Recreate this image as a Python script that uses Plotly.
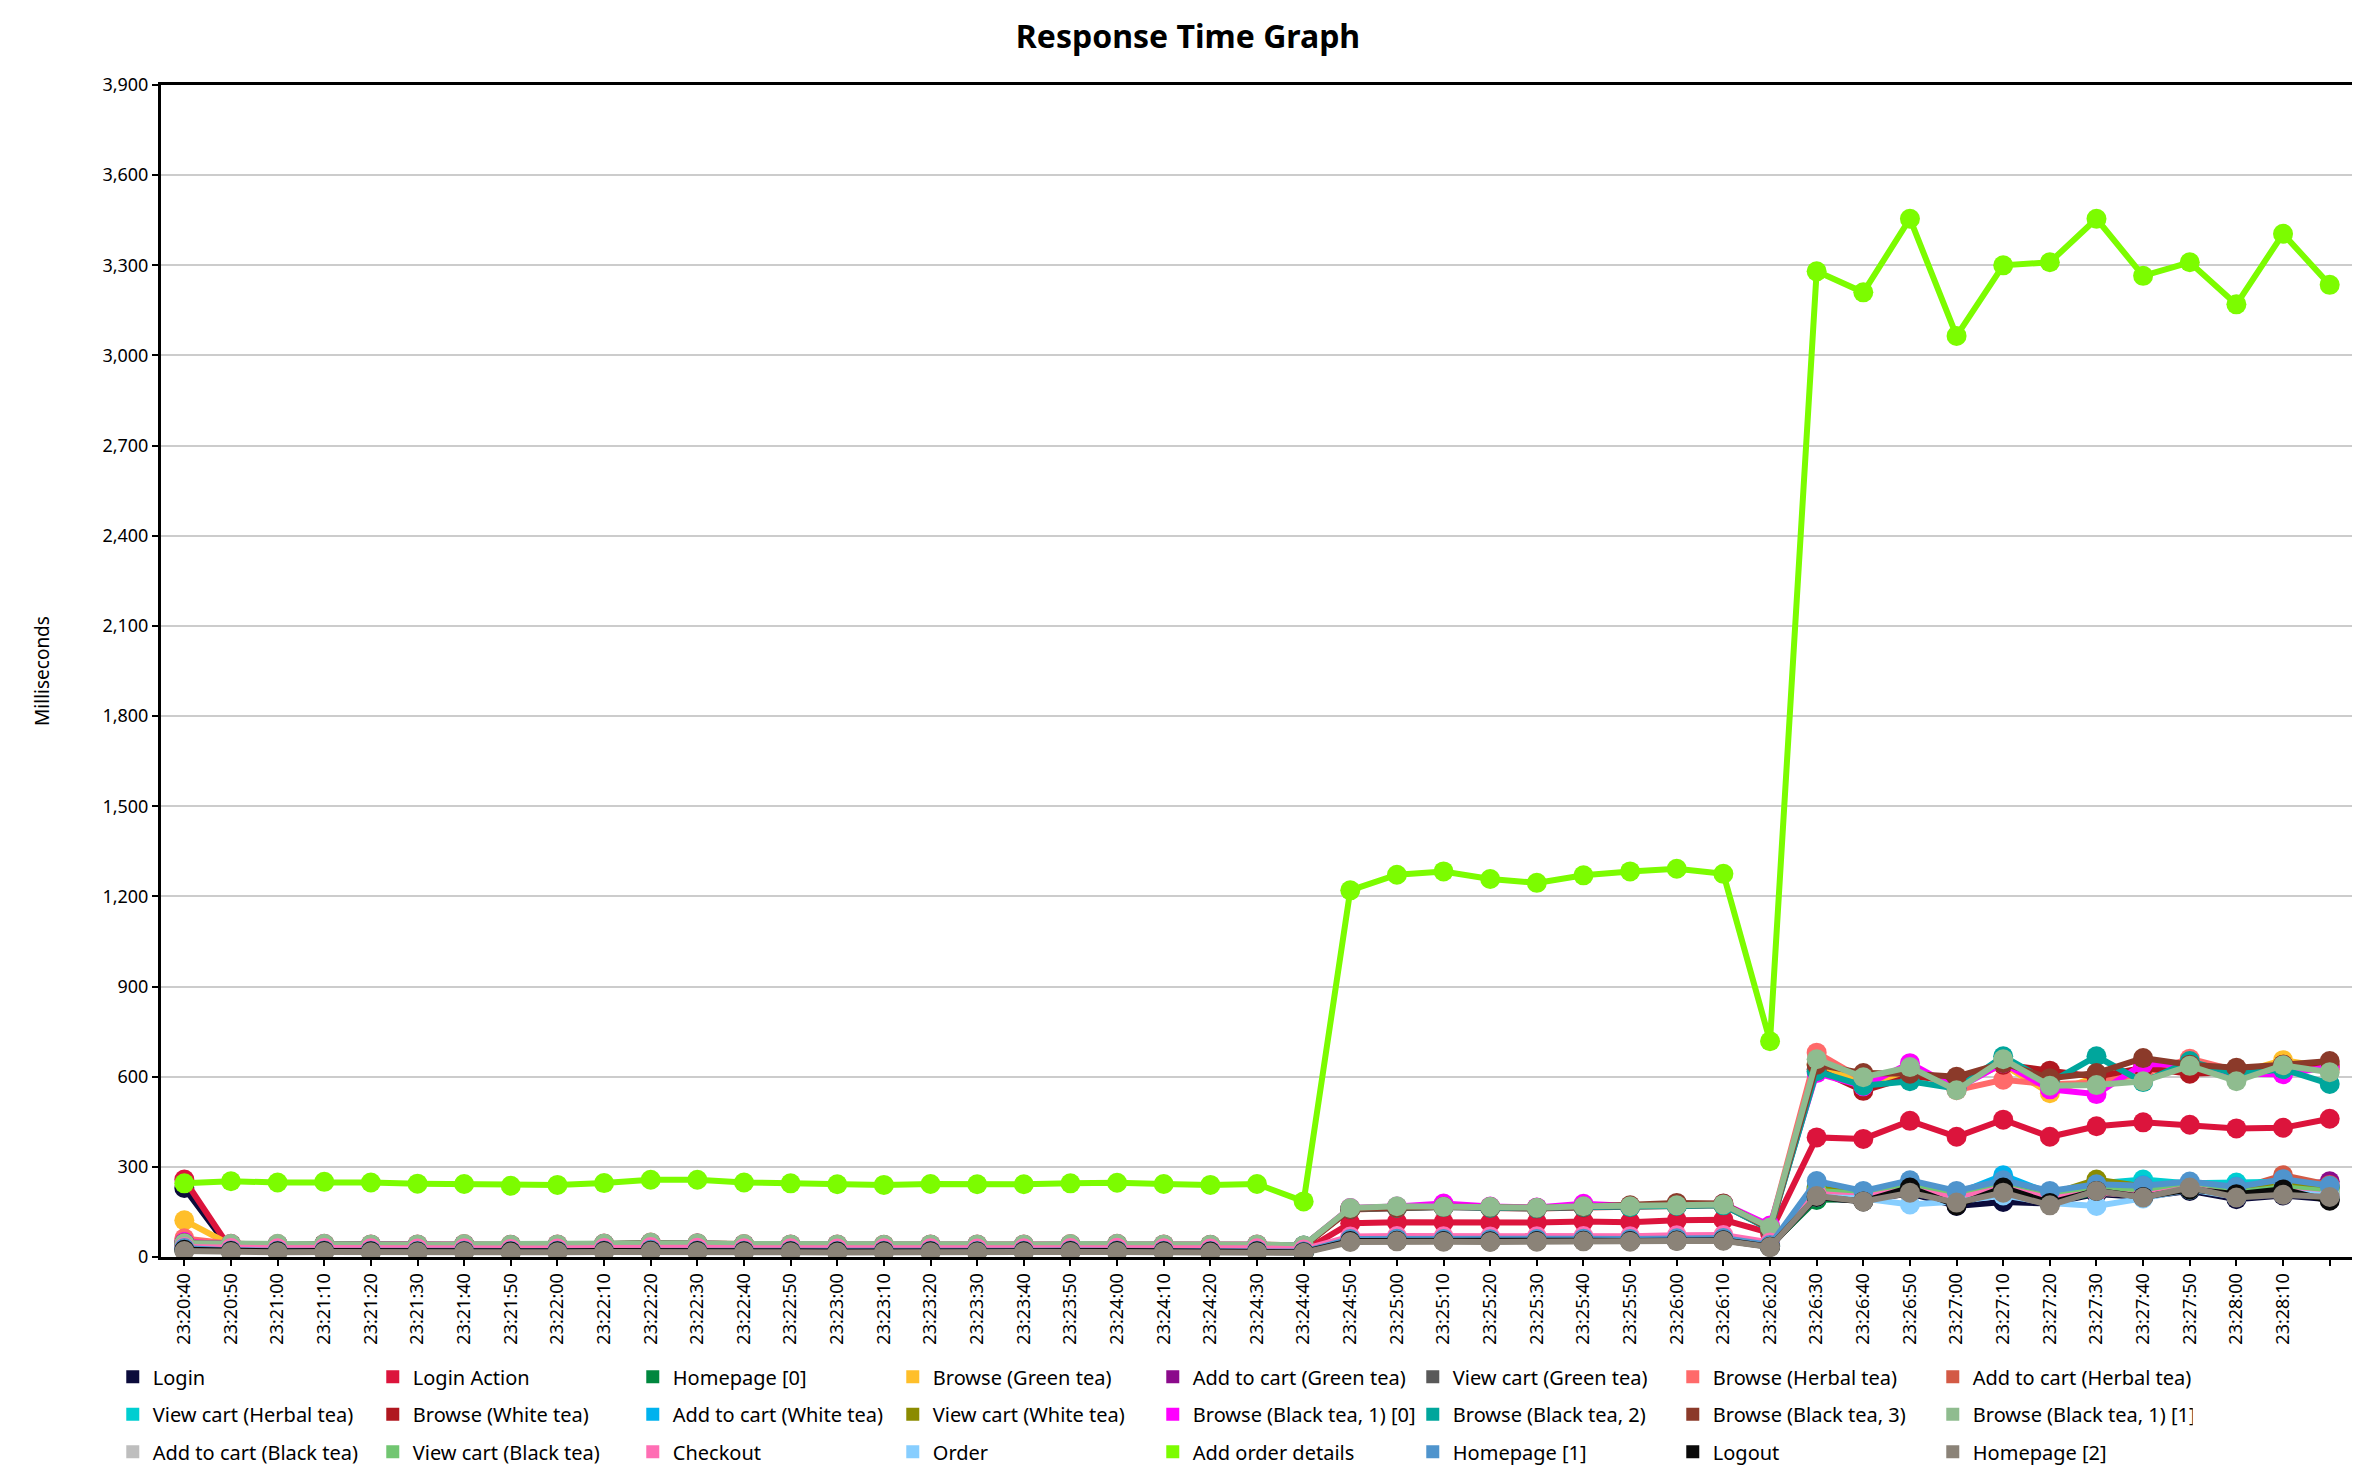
import plotly.graph_objects as go

times = ["23:20:40", "23:20:50", "23:21:00", "23:21:10", "23:21:20", "23:21:30", "23:21:40", "23:21:50",
         "23:22:00", "23:22:10", "23:22:20", "23:22:30", "23:22:40", "23:22:50", "23:23:00", "23:23:10",
         "23:23:20", "23:23:30", "23:23:40", "23:23:50", "23:24:00", "23:24:10", "23:24:20", "23:24:30",
         "23:24:40", "23:24:50", "23:25:00", "23:25:10", "23:25:20", "23:25:30", "23:25:40", "23:25:50",
         "23:26:00", "23:26:10", "23:26:20", "23:26:30", "23:26:40", "23:26:50", "23:27:00", "23:27:10",
         "23:27:20", "23:27:30", "23:27:40", "23:27:50", "23:28:00", "23:28:10", "23:28:20"]
tick_labels = times[:-1] + [""]
y_ticks = [0, 300, 600, 900, 1200, 1500, 1800, 2100, 2400, 2700, 3000, 3300, 3600, 3900]

login = [230, 22, 20, 21, 20, 20, 21, 19, 20, 22, 23, 21, 20, 20, 19, 20, 21, 20, 20, 21, 22, 20, 19, 20, 17,
         55, 56, 55, 54, 55, 56, 55, 57, 58, 36, 195, 188, 212, 170, 183, 178, 210, 200, 220, 192, 205, 192]
login_action = [258, 25, 24, 25, 24, 23, 24, 23, 23, 25, 27, 26, 24, 24, 23, 23, 24, 23, 24, 25, 26, 24, 23, 24, 20,
                112, 116, 115, 114, 115, 118, 116, 122, 124, 80, 398, 393, 453, 400, 457, 400, 435, 448, 440, 428, 430, 460]
homepage_0 = [28, 21, 20, 21, 20, 19, 20, 19, 20, 21, 22, 21, 20, 20, 19, 20, 20, 19, 20, 21, 21, 20, 19, 20, 17,
              57, 58, 57, 56, 57, 58, 57, 59, 60, 38, 190, 195, 215, 185, 220, 180, 215, 205, 225, 205, 215, 200]
browse_green = [122, 40, 41, 42, 40, 40, 41, 39, 40, 43, 46, 44, 41, 40, 40, 39, 40, 40, 40, 41, 42, 40, 39, 40, 36,
                160, 165, 168, 165, 163, 167, 168, 172, 174, 95, 640, 585, 610, 575, 640, 545, 600, 615, 640, 610, 655, 630]
add_green = [30, 22, 21, 22, 21, 20, 21, 20, 21, 22, 24, 22, 21, 21, 20, 21, 21, 20, 21, 22, 22, 21, 20, 21, 18,
             60, 61, 60, 59, 60, 61, 60, 62, 63, 40, 225, 210, 240, 205, 240, 205, 235, 225, 235, 215, 235, 252]
view_green = [25, 20, 19, 20, 19, 19, 20, 18, 19, 20, 21, 20, 19, 19, 18, 19, 19, 19, 19, 20, 20, 19, 18, 19, 16,
              54, 55, 54, 53, 54, 55, 54, 56, 57, 35, 205, 198, 222, 190, 215, 190, 220, 210, 228, 208, 222, 205]
browse_herbal = [62, 44, 43, 44, 42, 42, 43, 41, 42, 45, 48, 46, 43, 42, 42, 41, 42, 42, 42, 43, 44, 42, 41, 42, 38,
                 162, 166, 168, 166, 164, 168, 169, 173, 175, 98, 680, 590, 625, 555, 590, 575, 580, 610, 660, 620, 630, 625]
add_herbal = [32, 23, 22, 23, 22, 21, 22, 21, 22, 23, 25, 23, 22, 22, 21, 22, 22, 21, 22, 23, 23, 22, 21, 22, 19,
              61, 62, 61, 60, 61, 62, 61, 63, 64, 41, 230, 215, 245, 210, 245, 210, 240, 230, 245, 225, 272, 240]
view_herbal = [27, 21, 20, 21, 20, 20, 21, 19, 20, 21, 22, 21, 20, 20, 19, 20, 20, 20, 20, 21, 21, 20, 19, 20, 17,
               56, 57, 56, 55, 56, 57, 56, 58, 59, 37, 220, 205, 238, 200, 238, 205, 245, 258, 245, 248, 250, 232]
browse_white = [48, 42, 41, 42, 40, 40, 41, 39, 40, 43, 46, 44, 41, 40, 40, 39, 40, 40, 40, 41, 42, 40, 39, 40, 36,
                158, 163, 166, 163, 161, 165, 166, 170, 172, 93, 625, 553, 600, 590, 640, 620, 600, 630, 610, 615, 640, 640]
add_white = [29, 22, 21, 22, 21, 20, 21, 20, 21, 22, 23, 22, 21, 21, 20, 21, 21, 20, 21, 22, 22, 21, 20, 21, 18,
             59, 60, 59, 58, 59, 60, 59, 61, 62, 39, 235, 212, 242, 210, 272, 212, 240, 240, 242, 235, 248, 235]
view_white = [28, 21, 20, 21, 20, 19, 20, 19, 20, 21, 22, 21, 20, 20, 19, 20, 20, 19, 20, 21, 21, 20, 19, 20, 17,
              58, 59, 58, 57, 58, 59, 58, 60, 61, 38, 228, 210, 240, 208, 235, 208, 258, 235, 240, 228, 240, 230]
browse_black1_0 = [50, 43, 42, 43, 41, 41, 42, 40, 41, 44, 47, 45, 42, 41, 41, 40, 41, 41, 41, 42, 43, 41, 40, 41, 37,
                   163, 168, 178, 168, 165, 177, 170, 175, 177, 105, 612, 568, 645, 560, 645, 558, 542, 642, 640, 610, 608, 632]
browse_black2 = [45, 42, 41, 42, 40, 40, 41, 39, 40, 43, 46, 44, 41, 40, 40, 39, 40, 40, 40, 41, 42, 40, 39, 40, 38,
                 160, 164, 166, 164, 162, 166, 166, 170, 172, 92, 618, 570, 585, 560, 668, 580, 668, 582, 652, 608, 625, 576]
browse_black3 = [47, 42, 41, 42, 40, 40, 41, 39, 40, 43, 46, 44, 41, 40, 40, 39, 40, 40, 40, 41, 42, 40, 39, 40, 36,
                 160, 165, 167, 166, 163, 168, 172, 180, 178, 94, 640, 612, 610, 600, 645, 595, 612, 662, 640, 630, 640, 652]
browse_black1_1 = [46, 44, 44, 44, 42, 42, 43, 41, 42, 45, 48, 46, 43, 42, 42, 41, 42, 42, 42, 43, 44, 42, 41, 42, 38,
                   163, 169, 167, 167, 164, 169, 169, 172, 175, 98, 658, 598, 632, 555, 658, 570, 572, 585, 636, 585, 638, 615]
add_black = [30, 23, 22, 23, 22, 21, 22, 21, 22, 23, 25, 23, 22, 22, 21, 22, 22, 21, 22, 23, 23, 22, 21, 22, 19,
             63, 64, 63, 62, 63, 64, 63, 65, 66, 42, 215, 205, 230, 200, 230, 200, 225, 215, 230, 210, 228, 212]
view_black = [29, 22, 21, 22, 21, 20, 21, 20, 21, 22, 24, 22, 21, 21, 20, 21, 21, 20, 21, 22, 22, 21, 20, 21, 18,
              62, 63, 62, 61, 62, 63, 62, 64, 65, 41, 220, 210, 235, 205, 235, 200, 232, 222, 238, 215, 232, 218]
checkout = [33, 30, 29, 30, 29, 28, 29, 27, 28, 30, 33, 31, 29, 29, 28, 29, 29, 28, 29, 30, 31, 29, 28, 29, 25,
            68, 70, 69, 68, 69, 70, 69, 72, 73, 48, 210, 200, 225, 195, 230, 195, 215, 205, 230, 205, 220, 205]
order = [26, 20, 19, 20, 19, 19, 20, 18, 19, 20, 21, 20, 19, 19, 18, 19, 19, 19, 19, 20, 20, 19, 18, 19, 16,
         55, 56, 55, 54, 55, 56, 55, 57, 58, 36, 200, 195, 175, 185, 205, 180, 170, 195, 225, 200, 215, 205]
add_order_details = [245, 252, 248, 250, 248, 244, 243, 237, 240, 246, 257, 257, 248, 245, 242, 240, 243, 242, 242,
                     245, 247, 243, 240, 243, 185, 1220, 1272, 1283, 1258, 1245, 1270, 1283, 1292, 1275, 718,
                     3280, 3210, 3455, 3065, 3300, 3310, 3455, 3265, 3310, 3170, 3405, 3235]
homepage_1 = [30, 22, 21, 22, 21, 20, 21, 20, 21, 22, 24, 22, 21, 21, 20, 21, 21, 20, 21, 22, 22, 21, 20, 21, 18,
              60, 61, 60, 59, 60, 61, 60, 62, 63, 40, 253, 220, 255, 220, 255, 220, 242, 237, 251, 233, 259, 237]
logout = [24, 20, 19, 20, 19, 18, 19, 18, 19, 20, 21, 20, 19, 19, 18, 19, 19, 18, 19, 20, 20, 19, 18, 19, 16,
          53, 54, 53, 52, 53, 54, 53, 55, 56, 34, 200, 185, 231, 172, 231, 180, 220, 200, 225, 209, 225, 187]
homepage_2 = [20, 17, 16, 17, 16, 16, 17, 15, 16, 17, 18, 17, 16, 16, 15, 16, 16, 16, 16, 17, 17, 16, 15, 16, 14,
              50, 52, 51, 50, 51, 52, 51, 53, 54, 33, 203, 185, 214, 181, 214, 172, 220, 198, 231, 198, 207, 200]

series_names = ["Login", "Login Action", "Homepage [0]", "Browse (Green tea)", "Add to cart (Green tea)",
                "View cart (Green tea)", "Browse (Herbal tea)", "Add to cart (Herbal tea)",
                "View cart (Herbal tea)", "Browse (White tea)", "Add to cart (White tea)", "View cart (White tea)",
                "Browse (Black tea, 1) [0]", "Browse (Black tea, 2)", "Browse (Black tea, 3)",
                "Browse (Black tea, 1) [1]", "Add to cart (Black tea)", "View cart (Black tea)", "Checkout",
                "Order", "Add order details", "Homepage [1]", "Logout", "Homepage [2]"]
series_values = [login, login_action, homepage_0, browse_green, add_green, view_green, browse_herbal, add_herbal,
                 view_herbal, browse_white, add_white, view_white, browse_black1_0, browse_black2, browse_black3,
                 browse_black1_1, add_black, view_black, checkout, order, add_order_details, homepage_1, logout,
                 homepage_2]
series_colors = ["#0B0B3B", "#DC143C", "#00873E", "#FFBF2A", "#8B0A8B", "#595959", "#FF6A6A", "#D35A45",
                 "#00CED1", "#B0171F", "#00B2EE", "#8B8B00", "#FF00FF", "#00A69C", "#8B3A2A", "#8FBC8F",
                 "#BEBEBE", "#71C671", "#FF6EB4", "#87CEFF", "#7CFC00", "#4F94CD", "#0A0A0A", "#8B8378"]

FONT = "Noto Sans"
LEGEND_IDS = ["legend", "legend2", "legend3"]
ITEMS_PER_ROW = 8

fig = go.Figure()
for name, vals, col in zip(series_names, series_values, series_colors):
    fig.add_trace(go.Scatter(x=times, y=vals, name=name, mode="lines+markers", legendgroup=name,
                             showlegend=False, line=dict(color=col, width=6),
                             marker=dict(color=col, size=20, symbol="circle")))
for i, (name, col) in enumerate(zip(series_names, series_colors)):
    fig.add_trace(go.Scatter(x=[None], y=[None], name=name, mode="markers", legendgroup=name,
                             legend=LEGEND_IDS[i // ITEMS_PER_ROW], showlegend=True,
                             marker=dict(color=col, size=13, symbol="square")))

legend_common = dict(orientation="h", x=-0.022, xanchor="left", yanchor="top",
                     entrywidth=215, entrywidthmode="pixels", font=dict(family=FONT, size=20),
                     bgcolor="rgba(0,0,0,0)", traceorder="normal", itemwidth=30)

fig.update_layout(
    width=2360, height=1480,
    paper_bgcolor="white", plot_bgcolor="white",
    font=dict(family=FONT, size=18, color="#000000"),
    margin=dict(l=153, r=15, t=77, b=231, autoexpand=False),
    title=dict(text="<b>Response Time Graph</b>", x=0.5, xref="container", xanchor="center",
               y=1 - 29 / 1480, yref="container", yanchor="middle",
               font=dict(family=FONT, size=32, color="#000000")),
    showlegend=True,
    legend=dict(legend_common, y=-0.0855),
    legend2=dict(legend_common, y=-0.1175),
    legend3=dict(legend_common, y=-0.1495),
)
fig.update_xaxes(type="category", categoryorder="array", categoryarray=times,
                 range=[-0.5, len(times) - 0.5],
                 tickmode="array", tickvals=times, ticktext=tick_labels, tickangle=-90,
                 ticks="outside", ticklen=6, tickwidth=2, tickcolor="#000000",
                 showline=True, linecolor="#000000", linewidth=3, mirror=True,
                 showgrid=False, zeroline=False, tickfont=dict(family=FONT, size=18))
fig.update_yaxes(range=[0, 3900], tickmode="array", tickvals=y_ticks,
                 tickformat=",d", ticks="outside", ticklen=6, tickwidth=2, tickcolor="#000000",
                 showline=True, linecolor="#000000", linewidth=3, mirror=True,
                 showgrid=True, gridcolor="#CCCCCC", gridwidth=2, zeroline=False,
                 title=dict(text="Milliseconds", standoff=48, font=dict(family=FONT, size=19)),
                 tickfont=dict(family=FONT, size=18))

fig.write_html("out.html")
